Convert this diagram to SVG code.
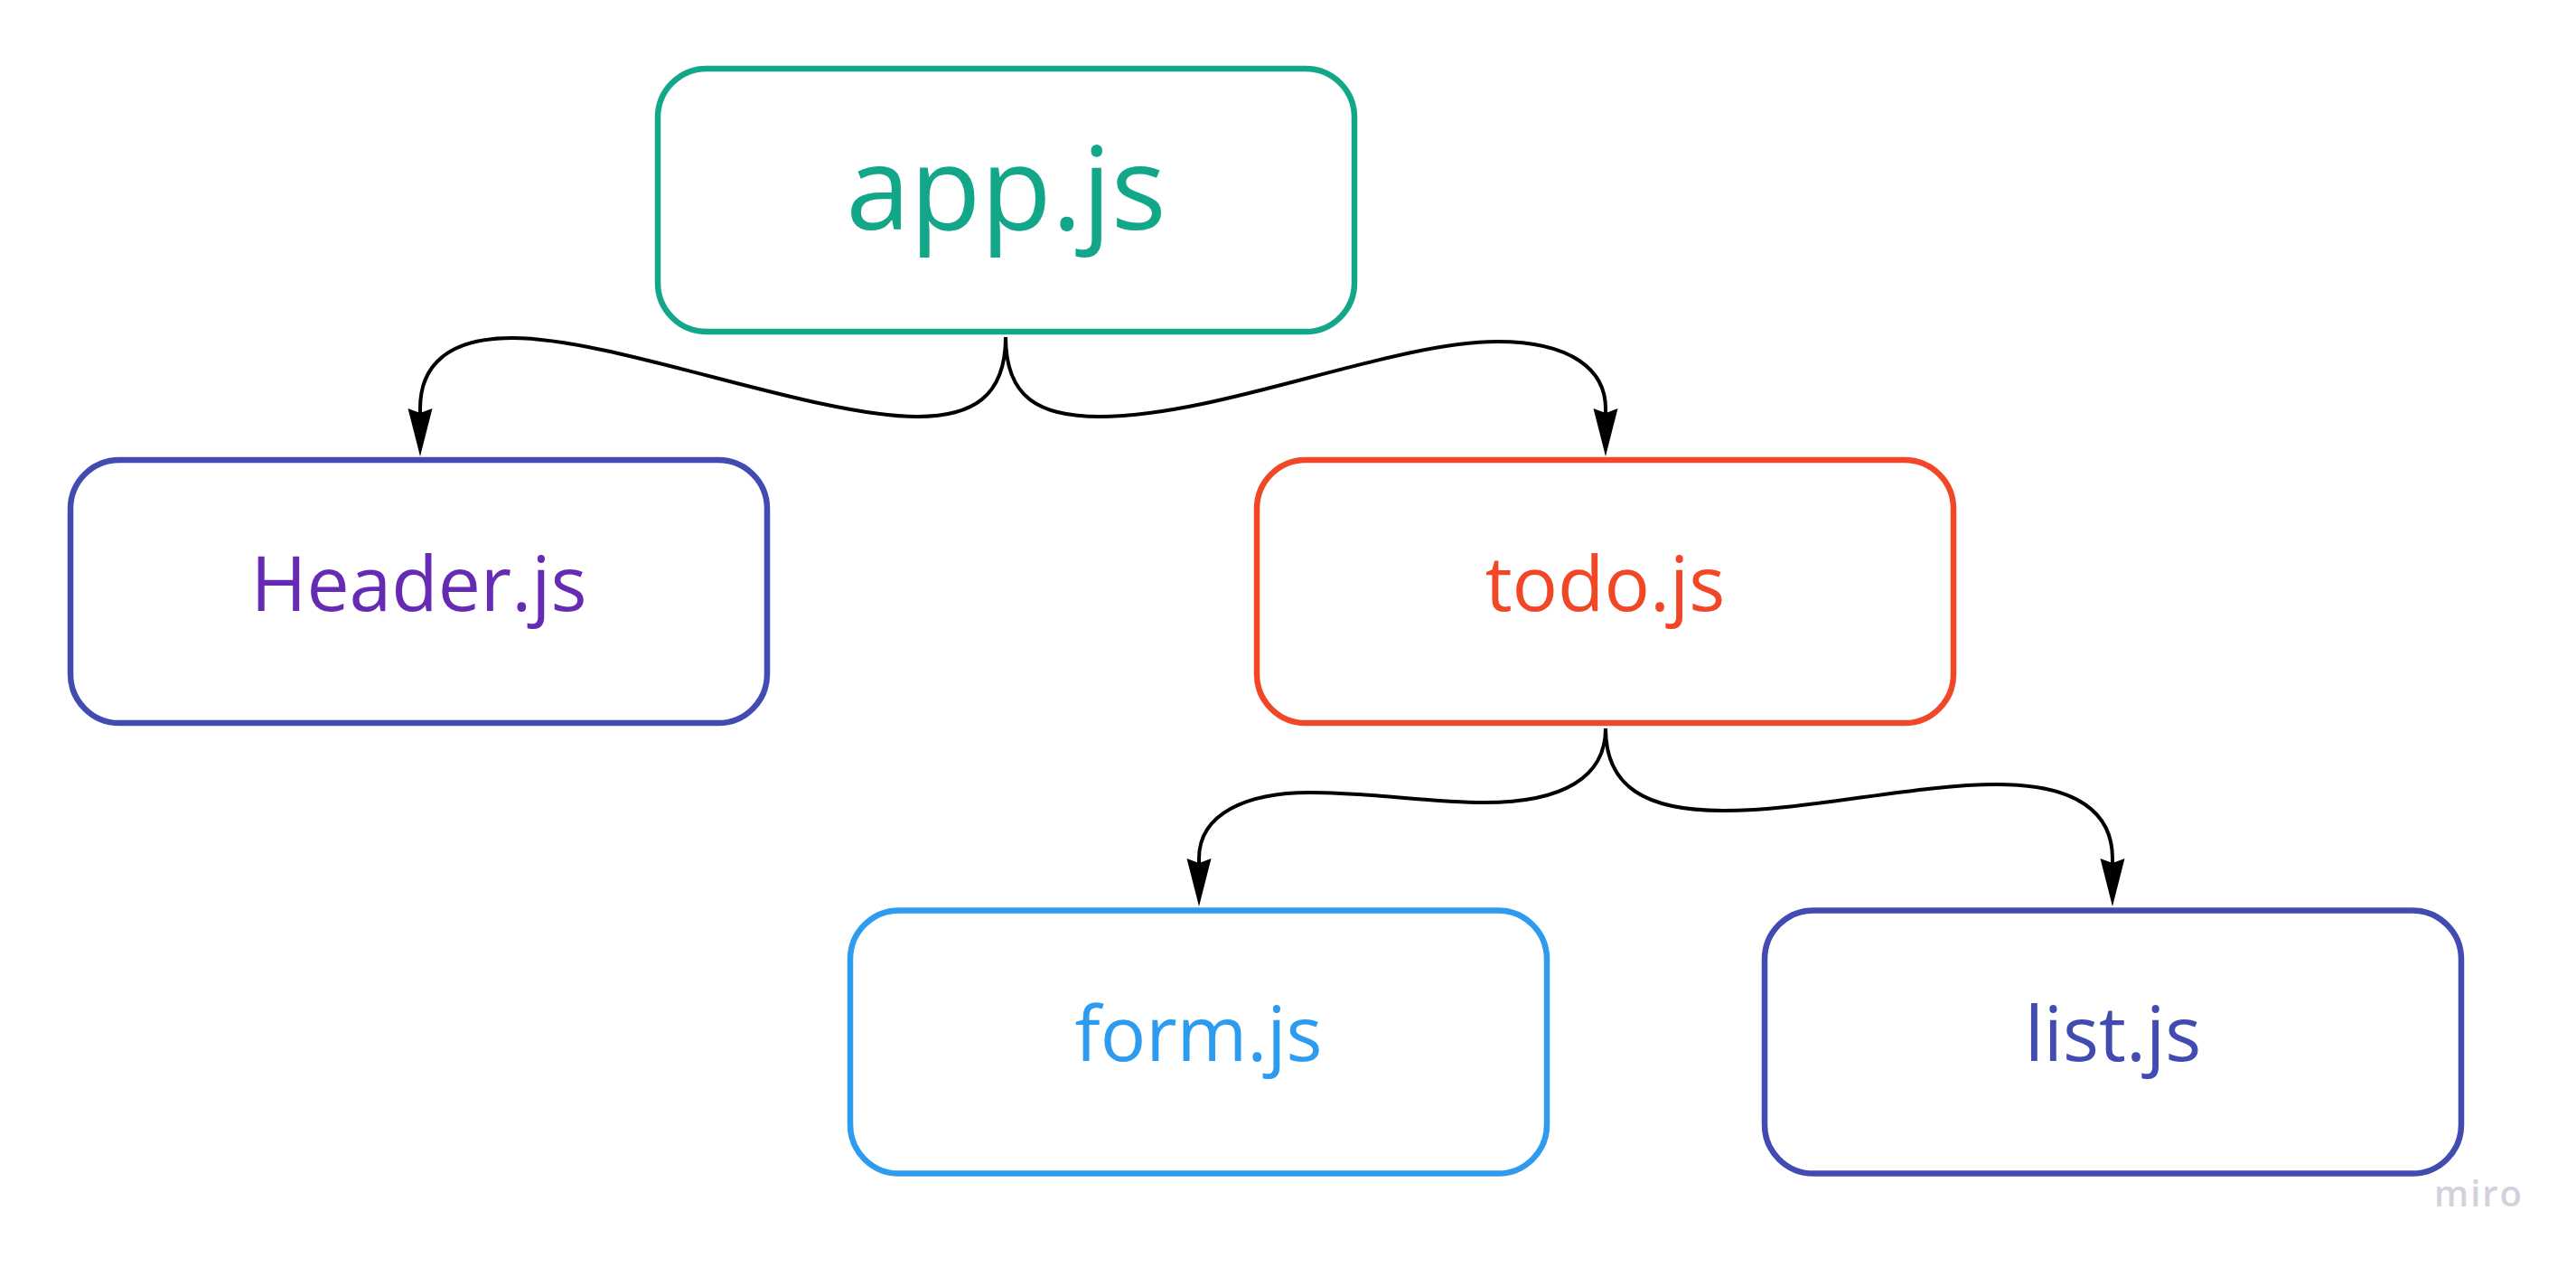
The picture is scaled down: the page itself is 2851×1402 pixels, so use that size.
<svg xmlns="http://www.w3.org/2000/svg" width="2851" height="1402" viewBox="0 0 2851 1402">
  <style>
    .box { fill: #ffffff; stroke-width: 6.5; }
    .label { font-family: "Open Sans", "Liberation Sans", sans-serif; text-anchor: middle; }
    .small { font-size: 84px; }
    .edge { fill: none; stroke: #000000; stroke-width: 4; stroke-linecap: butt; }
    .mark { font-family: "Open Sans", "Liberation Sans", sans-serif; font-weight: 600; font-size: 40px; fill: #d2d2dc; letter-spacing: 2px; }
  </style>
  <defs>
    <marker id="arrow" viewBox="-8 -15 58 30" refX="0" refY="0" markerWidth="58" markerHeight="30" markerUnits="userSpaceOnUse" orient="auto">
      <path d="M0,0 L-5,-13.5 L48,0 L-5,13.5 Z" fill="#000000"/>
    </marker>
  </defs>

  <rect width="2851" height="1402" fill="#ffffff"/>

  <!-- connectors -->
  <g id="connectors">
    <path class="edge" marker-end="url(#arrow)" d="M1113,373 C1113,440 1075,461 1015,461 C900,461 680,374 567,374 C495,374 465,405 465,452 L465,457"/>
    <path class="edge" marker-end="url(#arrow)" d="M1113,373 C1113,440 1150,461 1217,461 C1350,461 1540,378 1657,378 C1740,378 1777,410 1777,452 L1777,457"/>
    <path class="edge" marker-end="url(#arrow)" d="M1777,806 C1777,860 1730,888 1643,888 C1580,888 1520,877 1450,877 C1380,877 1327,900 1327,950 L1327,955"/>
    <path class="edge" marker-end="url(#arrow)" d="M1777,806 C1777,870 1820,897 1907,897 C2000,897 2120,868 2210,868 C2300,868 2338,900 2338,950 L2338,955"/>
  </g>

  <!-- nodes -->
  <g id="app">
    <rect class="box" x="728" y="76" width="771" height="291" rx="54" ry="54" stroke="#12a788"/>
    <text class="label" x="1113.5" y="254" font-size="128" fill="#12a788">app.js</text>
  </g>
  <g id="header">
    <rect class="box" x="78" y="509" width="771" height="291" rx="54" ry="54" stroke="#414bb2"/>
    <text class="label small" x="463.5" y="676" fill="#652cb3">Header.js</text>
  </g>
  <g id="todo">
    <rect class="box" x="1391" y="509" width="771" height="291" rx="54" ry="54" stroke="#f24726"/>
    <text class="label small" x="1776.5" y="676" fill="#f24726">todo.js</text>
  </g>
  <g id="form">
    <rect class="box" x="941" y="1007.5" width="771" height="291" rx="54" ry="54" stroke="#2d9bf0"/>
    <text class="label small" x="1326.5" y="1174" fill="#2d9bf0">form.js</text>
  </g>
  <g id="list">
    <rect class="box" x="1953" y="1007.5" width="771" height="291" rx="54" ry="54" stroke="#414bb2"/>
    <text class="label small" x="2338.5" y="1174" fill="#414bb2">list.js</text>
  </g>

  <text class="mark" x="2694" y="1335">miro</text>
</svg>
